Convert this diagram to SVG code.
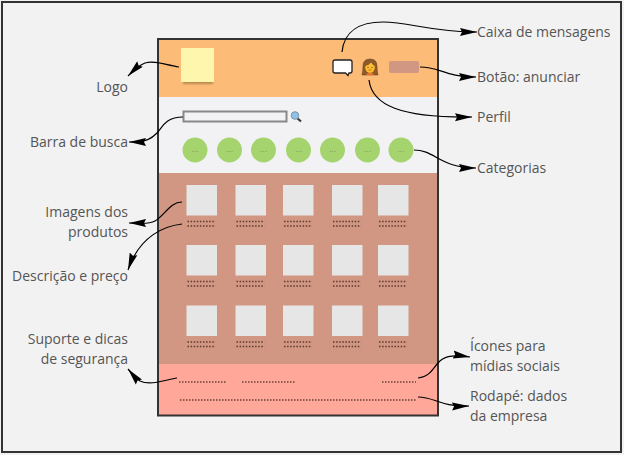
<svg xmlns="http://www.w3.org/2000/svg" width="624" height="455" viewBox="0 0 624 455">
<defs>
<marker id="ah" markerUnits="userSpaceOnUse" markerWidth="20" markerHeight="12" refX="17" refY="5" orient="auto"><path d="M0 1L17 5L0 9L2 5Z" fill="#000"/></marker>
<filter id="bl" x="-20%" y="-20%" width="140%" height="140%"><feGaussianBlur stdDeviation="1"/></filter>
<g id="pr"><rect x="0" y="0" width="30.500" height="30.500" fill="#e6e6e6"/><path d="M1 36.500H29M1 41H29" stroke="#5c3a30" stroke-width="1.500" stroke-dasharray="1.500 1.600" fill="none"/></g>
<g id="ct"><circle cx="0" cy="0" r="12.500" fill="#a5d46f"/><text x="0" y="2" class="d">...</text></g>
</defs>
<style>
text{font-family:"Open Sans","DejaVu Sans",sans-serif;font-size:14px;fill:#555}
.e{text-anchor:end}
.d{font-size:9px;fill:#7f9a66;text-anchor:middle}
.c{fill:none;stroke:#000;stroke-width:1.200}
.a{marker-end:url(#ah)}
.do{fill:none;stroke:#6b3f34;stroke-width:1.500;stroke-dasharray:1.500 1.500}
</style>
<rect x="0" y="0" width="624" height="455" fill="#f2f2f2"/>
<rect id="frame" x="2" y="2" width="619" height="450" fill="none" stroke="#333" stroke-width="2"/>
<g id="page">
<rect x="158" y="39" width="280" height="58" fill="#fdbb78"/>
<rect x="158" y="97" width="280" height="76" fill="#f2f2f4"/>
<rect x="158" y="173" width="280" height="191" fill="#d19782"/>
<rect x="158" y="364" width="280" height="52" fill="#ffa899"/>
<rect x="158" y="39" width="280" height="376.500" fill="none" stroke="#333" stroke-width="2"/>
</g>
<g id="logo">
<rect x="183" y="78" width="30" height="6" fill="#8a6a30" opacity="0.600" filter="url(#bl)"/>
<rect x="181" y="48" width="33" height="34" fill="#fff6ae"/>
</g>
<g id="msg">
<path d="M335 60H350Q352 60 352 62V71Q352 73 350 73H349L348 75.500L345.500 73H335Q333 73 333 71V62Q333 60 335 60Z" fill="#fff" stroke="#222" stroke-width="1.300"/>
</g>
<g id="profile">
<path d="M362 75Q363 71 363 66Q363 59 370 59Q377 59 377 66Q377 71 378 75Z" fill="#8f5a2a" stroke="#5f3a18" stroke-width="0.500"/>
<path d="M366 75Q367 73 368.500 72.500H371.500Q373 73 374 75Z" fill="#e8742c"/>
<ellipse cx="370" cy="67.500" rx="4.800" ry="5.200" fill="#fdbf2d"/>
<path d="M365 66Q369 65.500 371 62.500Q373 65.500 375 66Q375 61.500 370 61.500Q365 61.500 365 66Z" fill="#8f5a2a"/>
<path d="M368 67.500h.1M372 67.500h.1" stroke="#5f3a18" stroke-width="1.200" stroke-linecap="round"/>
<path d="M368.500 70H371.500" stroke="#c8501e" stroke-width="0.800"/>
</g>
<g id="ad"><rect x="389" y="61" width="30" height="12" rx="2" fill="#d19782"/></g>
<g id="search">
<rect x="183.500" y="111.500" width="103" height="10" fill="#f2f2f4" stroke="#888" stroke-width="2"/>
<path d="M297 118L301 121.500" stroke="#3a3a3a" stroke-width="2.200"/>
<circle cx="295" cy="115.500" r="3.800" fill="#8fc0e8" stroke="#7f95a5"/>
</g>
<g id="cats">
<use href="#ct" x="195" y="150"/><use href="#ct" x="229.500" y="150"/><use href="#ct" x="263.500" y="150"/><use href="#ct" x="298.500" y="150"/><use href="#ct" x="332.500" y="150"/><use href="#ct" x="367.500" y="150"/><use href="#ct" x="401" y="150"/>
</g>
<g id="products">
<use href="#pr" x="186.500" y="185"/><use href="#pr" x="235.500" y="185"/><use href="#pr" x="283" y="185"/><use href="#pr" x="332" y="185"/><use href="#pr" x="378" y="185"/>
<use href="#pr" x="186.500" y="245"/><use href="#pr" x="235.500" y="245"/><use href="#pr" x="283" y="245"/><use href="#pr" x="332" y="245"/><use href="#pr" x="378" y="245"/>
<use href="#pr" x="186.500" y="305.500"/><use href="#pr" x="235.500" y="305.500"/><use href="#pr" x="283" y="305.500"/><use href="#pr" x="332" y="305.500"/><use href="#pr" x="378" y="305.500"/>
</g>
<g id="footer">
<path class="do" d="M179 382H226M242 382H296M382 382H416M180 400H416"/>
</g>
<g id="connectors">
<path class="c a" d="M342 52C344 31 360 22 383 22C410 22 430 32 477 32"/>
<path class="c a" d="M420 67C440 67 445 77 476 77"/>
<path class="c a" d="M369 80C372 105 400 118 472 117"/>
<path class="c a" d="M414 150C435 150 440 168 476 168"/>
<path class="c a" d="M179 67C165 65 155 60 145 63C140 65 133 71 128 76"/>
<path class="c a" d="M183 117C165 117 162 128 157 133C152 138 148 142 129 142"/>
<path class="c a" d="M182 202C170 202 165 215 155 221C148 225 140 223 129 223"/>
<path class="c a" d="M182 224C165 226 140 235 128 270"/>
<path class="c a" d="M177 378C165 380 150 386 140 381C137 379 133 375 128 369"/>
<path class="c a" d="M418 378C430 377 433 368 438 363C443 357 450 354 470 357"/>
<path class="c a" d="M418 397C435 397 440 407 469 406"/>
</g>
<g id="labels">
<text x="477" y="37">Caixa de mensagens</text>
<text x="477" y="82">Botão: anunciar</text>
<text x="477" y="122">Perfil</text>
<text x="477" y="173">Categorias</text>
<text x="128" y="92" class="e">Logo</text>
<text x="128" y="147" class="e">Barra de busca</text>
<text x="128" y="217" class="e">Imagens dos</text>
<text x="128" y="237" class="e">produtos</text>
<text x="128" y="281" class="e">Descrição e preço</text>
<text x="128" y="344" class="e">Suporte e dicas</text>
<text x="128" y="364" class="e">de segurança</text>
<text x="470" y="351">Ícones para</text>
<text x="470" y="371">mídias sociais</text>
<text x="470" y="401">Rodapé: dados</text>
<text x="470" y="421">da empresa</text>
</g>
</svg>
